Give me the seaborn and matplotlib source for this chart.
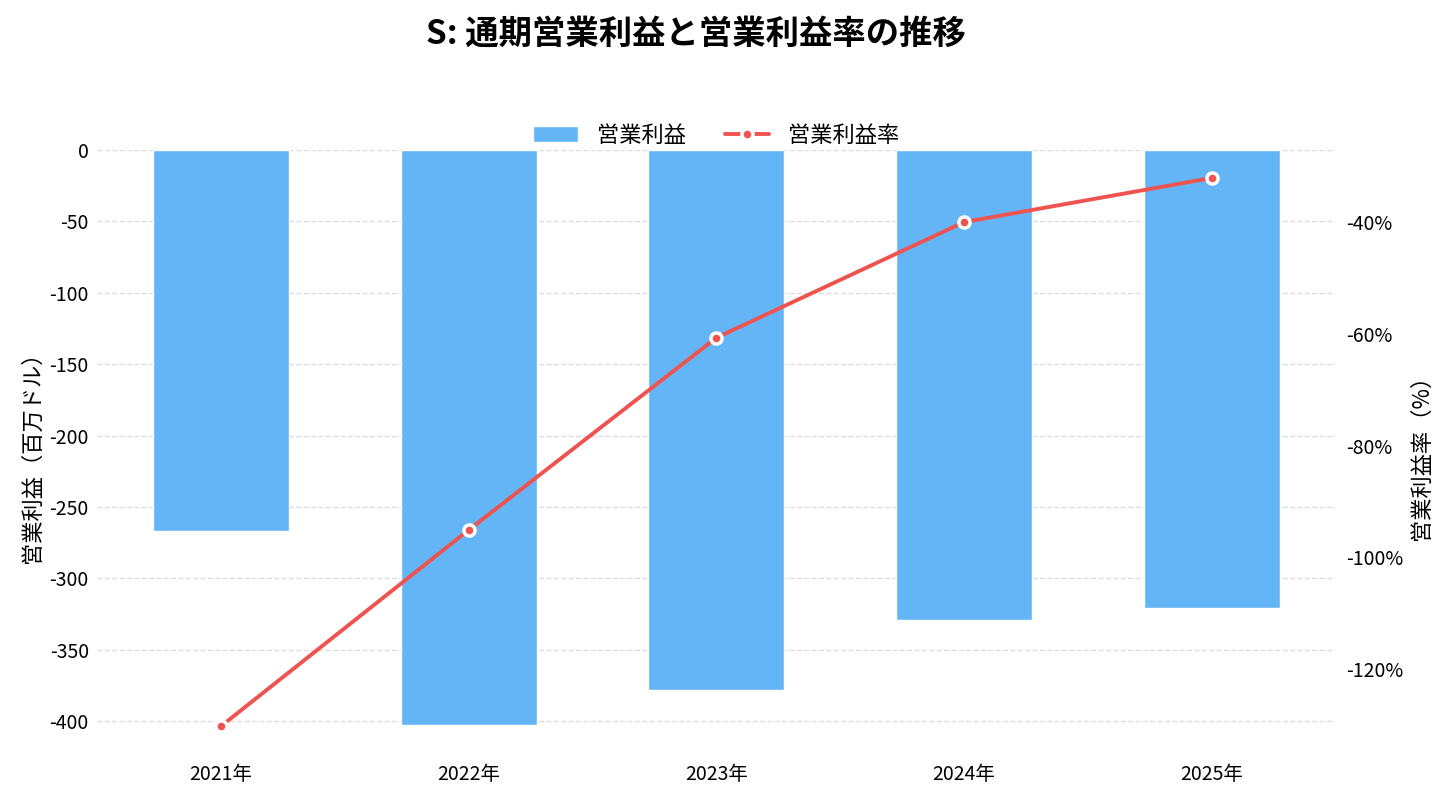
import pandas as pd
import matplotlib
matplotlib.use("Agg")
import matplotlib.pyplot as plt
import seaborn as sns
from matplotlib.ticker import FuncFormatter

sns.set_style("white")
plt.rcParams['font.family'] = ['Noto Sans CJK JP', 'DejaVu Sans']
plt.rcParams['axes.unicode_minus'] = False
plt.rcParams['text.color'] = 'black'
plt.rcParams['axes.labelcolor'] = 'black'
plt.rcParams['xtick.color'] = 'black'
plt.rcParams['ytick.color'] = 'black'

# data
years = ['2021年', '2022年', '2023年', '2024年', '2025年']
op_income = [-267, -403, -378, -329, -321]          # 百万ドル
op_margin = [-130.2, -95.1, -60.7, -40.0, -32.1]    # %

bar_color = '#64B5F6'
line_color = '#EF5350'

df = pd.DataFrame({'year': years, 'income': op_income, 'margin': op_margin})

fig = plt.figure(figsize=(14.5, 7.98), dpi=100)
ax = fig.add_axes([0.067, 0.055, 0.854, 0.757])

sns.barplot(data=df, x='year', y='income', color=bar_color, width=0.55,
            saturation=1, ax=ax, label='営業利益', zorder=2)
ax.set_xlim(-0.5, 4.5)
ax.set_ylim(min(op_income) * 1.05, 0)
ax.yaxis.grid(True, linestyle='--', color='#dddddd', linewidth=1, zorder=0)
ax.set_axisbelow(True)
ax.set_xlabel('')
ax.set_ylabel('営業利益（百万ドル）', fontsize=16)
ax.tick_params(axis='both', labelsize=14, length=0)
ax.tick_params(axis='x', pad=7)
ax.tick_params(axis='y', pad=6)

ax2 = ax.twinx()
sns.lineplot(data=df, x='year', y='margin', color=line_color, linewidth=2.8,
             marker='o', markersize=8, markeredgecolor='white', markeredgewidth=2.5,
             sort=False, ax=ax2, label='営業利益率')
ax2.set_ylim(min(op_margin) - 5, max(op_margin) + 5)
ax2.set_yticks([-120, -100, -80, -60, -40])
ax2.yaxis.set_major_formatter(FuncFormatter(lambda v, p: f'{v:.0f}%'))
ax2.set_ylabel('営業利益率（%）', fontsize=16)
ax2.tick_params(axis='y', labelsize=14, length=0, pad=8)
ax2.grid(False)

for a in (ax, ax2):
    for s in a.spines.values():
        s.set_visible(False)

h1, l1 = ax.get_legend_handles_labels()
h2, l2 = ax2.get_legend_handles_labels()
if ax.get_legend():
    ax.get_legend().remove()
if ax2.get_legend():
    ax2.get_legend().remove()
ax.legend(h1 + h2, l1 + l2, loc='lower center', bbox_to_anchor=(0.5, 0.972),
          ncol=2, frameon=False, fontsize=16, columnspacing=1.75,
          handlelength=2.0, handletextpad=0.85)

fig.suptitle('S: 通期営業利益と営業利益率の推移', fontsize=24, fontweight='bold',
             x=0.48, y=0.978)

plt.savefig('out.png', dpi=100)
